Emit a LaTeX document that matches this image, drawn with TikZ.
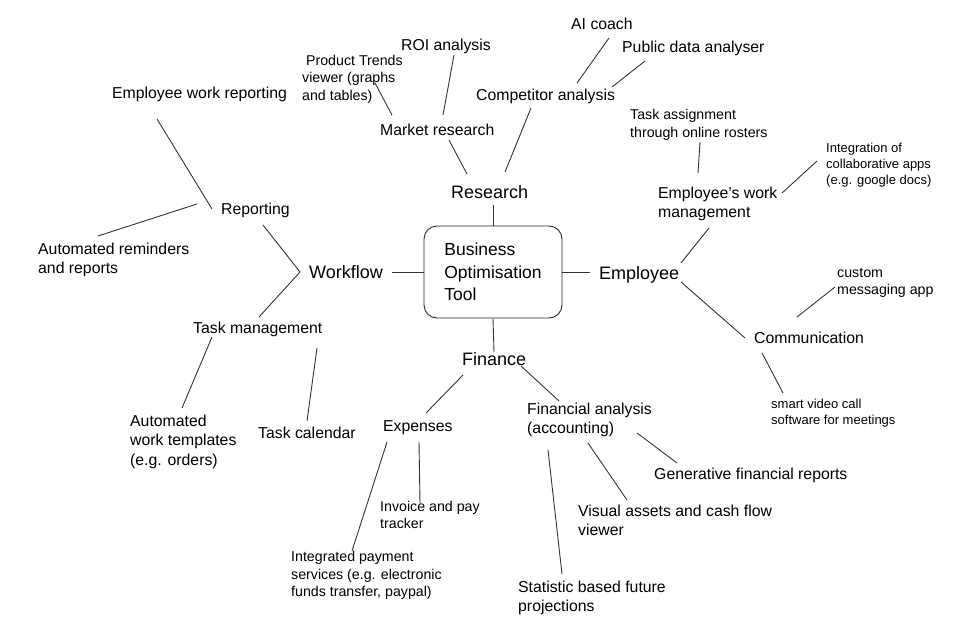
\documentclass[tikz,border=0pt]{standalone}
\usepackage{fontspec}
\setmainfont{Liberation Sans}

\begin{document}
\begin{tikzpicture}[x=1pt,y=-1pt,
	hub/.style={draw=black!85, line width=0.9pt, rounded corners=13pt, minimum width=138pt, minimum height=92pt, align=left, inner sep=0pt, font=\fontsize{17.5}{22.5}\selectfont},
	branch/.style={anchor=base west, inner sep=0pt, font=\fontsize{18}{22}\selectfont},
	topic/.style={anchor=base west, inner sep=0pt, align=left, font=\fontsize{15.8}{19.3}\selectfont},
	item/.style={anchor=base west, inner sep=0pt, align=left, font=\fontsize{14.2}{17.5}\selectfont},
	note/.style={anchor=base west, inner sep=0pt, align=left, font=\fontsize{13}{15.8}\selectfont},
	link/.style={draw=black!80, line width=0.9pt}]
	\useasboundingbox (0,0) rectangle (969,618);

	% multi-line texts sit on the baseline of their last line
	\node [hub] (box) at (493,272) {Business\\Optimisation\\Tool};

	\node [branch] (research) at (451,198.5) {Research};
	\node [branch] (workflow) at (309,278.5) {Workflow};
	\node [branch] (employee) at (599,279.5) {Employee};
	\node [branch] (finance) at (462,365) {Finance};

	\node [topic] (market) at (380,135) {Market research};
	\node [topic] (roi) at (401,51) {ROI analysis};
	\node [item] (trends) at (302,100) {\ Product Trends\\viewer (graphs\\and tables)};
	\node [topic] (competitor) at (476,100.5) {Competitor analysis};
	\node [topic] (coach) at (571,30) {AI coach};
	\node [topic] (public) at (622,53) {Public data analyser};

	\node [topic] (reporting) at (221,214.5) {Reporting};
	\node [topic] (empreport) at (112,98) {Employee work reporting};
	\node [topic] (reminders) at (38,273.8) {Automated reminders\\and reports};
	\node [topic] (taskman) at (193,333) {Task management};
	\node [topic] (templates) at (130,465.1) {Automated\\work templates\\(e.g. orders)};
	\node [topic] (calendar) at (258,438) {Task calendar};

	\node [topic] (workman) at (658,217.8) {Employee’s work\\management};
	\node [item] (rosters) at (630,137) {Task assignment\\through online rosters};
	\node [note] (collab) at (826,184.1) {Integration of\\collaborative apps\\(e.g. google docs)};
	\node [topic] (comm) at (754,343) {Communication};
	\node [item] (messaging) at (837,294) {custom\\[-1pt]messaging app};
	\node [note] (video) at (771,424.6) {smart video call\\software for meetings};

	\node [topic] (expenses) at (383,431.5) {Expenses};
	\node [item] (invoice) at (380,528.5) {Invoice and pay\\tracker};
	\node [item] (payment) at (291,596.8) {Integrated payment\\services (e.g. electronic\\funds transfer, paypal)};
	\node [topic] (analysis) at (527,433.3) {Financial analysis\\(accounting)};
	\node [topic] (generative) at (654,479.5) {Generative financial reports};
	\node [topic] (visual) at (578,535.3) {Visual assets and cash flow\\viewer};
	\node [topic] (statistic) at (518,611.3) {Statistic based future\\projections};

	% free ends of the connectors
	\coordinate (research-s) at (493,205);
	\coordinate (research-n) at (467,174);
	\coordinate (research-ne) at (505,172);
	\coordinate (market-s) at (449,140);
	\coordinate (market-nw) at (392,115);
	\coordinate (market-n) at (443,115);
	\coordinate (trends-s) at (375,83);
	\coordinate (roi-s) at (454,55);
	\coordinate (competitor-s) at (531,108);
	\coordinate (competitor-n) at (577,83);
	\coordinate (competitor-ne) at (612,87);
	\coordinate (coach-s) at (609,38);
	\coordinate (public-s) at (645,61);

	\coordinate (workflow-e) at (392,272);
	\coordinate (workflow-w) at (300,272);
	\coordinate (reporting-se) at (263,225);
	\coordinate (reporting-nw) at (212,209);
	\coordinate (reporting-w) at (197,204);
	\coordinate (empreport-s) at (157,119);
	\coordinate (reminders-n) at (98,236);
	\coordinate (taskman-ne) at (259,317);
	\coordinate (taskman-sw) at (212,337);
	\coordinate (taskman-se) at (317,348);
	\coordinate (templates-n) at (182,408);
	\coordinate (calendar-n) at (307,421);

	\coordinate (employee-w) at (590,272);
	\coordinate (employee-ne) at (681,263);
	\coordinate (employee-se) at (681,282);
	\coordinate (workman-s) at (709,228);
	\coordinate (workman-n) at (698,173);
	\coordinate (workman-e) at (782,193);
	\coordinate (rosters-s) at (700,142);
	\coordinate (collab-w) at (817,161);
	\coordinate (comm-w) at (745,338);
	\coordinate (comm-ne) at (797,317);
	\coordinate (comm-s) at (762,353);
	\coordinate (messaging-w) at (835,287);
	\coordinate (video-n) at (783,393);

	\coordinate (finance-n) at (494,352);
	\coordinate (finance-sw) at (463,375);
	\coordinate (finance-se) at (521,366);
	\coordinate (expenses-n) at (426,413);
	\coordinate (expenses-s) at (419,442);
	\coordinate (expenses-sw) at (387,442);
	\coordinate (invoice-n) at (420,503);
	\coordinate (payment-n) at (352,551);
	\coordinate (analysis-n) at (559,401);
	\coordinate (analysis-e) at (637,433);
	\coordinate (analysis-s) at (588,443);
	\coordinate (analysis-sw) at (548,450);
	\coordinate (generative-n) at (677,463);
	\coordinate (visual-n) at (627,500);
	\coordinate (statistic-n) at (562,574);

	\draw [link] (box.north) to (research-s);
	\draw [link] (research-n) to (market-s);
	\draw [link] (market-nw) to (trends-s);
	\draw [link] (market-n) to (roi-s);
	\draw [link] (research-ne) to (competitor-s);
	\draw [link] (competitor-n) to (coach-s);
	\draw [link] (competitor-ne) to (public-s);

	\draw [link] (box.west) to (workflow-e);
	\draw [link] (reporting-se) -- (workflow-w) -- (taskman-ne);
	\draw [link] (reporting-nw) to (empreport-s);
	\draw [link] (reporting-w) to (reminders-n);
	\draw [link] (taskman-sw) to (templates-n);
	\draw [link] (taskman-se) to (calendar-n);

	\draw [link] (box.east) to (employee-w);
	\draw [link] (employee-ne) to (workman-s);
	\draw [link] (workman-n) to (rosters-s);
	\draw [link] (workman-e) to (collab-w);
	\draw [link] (employee-se) to (comm-w);
	\draw [link] (comm-ne) to (messaging-w);
	\draw [link] (comm-s) to (video-n);

	\draw [link] (box.south) to (finance-n);
	\draw [link] (finance-sw) to (expenses-n);
	\draw [link] (expenses-s) to (invoice-n);
	\draw [link] (expenses-sw) to (payment-n);
	\draw [link] (finance-se) to (analysis-n);
	\draw [link] (analysis-e) to (generative-n);
	\draw [link] (analysis-s) to (visual-n);
	\draw [link] (analysis-sw) to (statistic-n);
\end{tikzpicture}
\end{document}
